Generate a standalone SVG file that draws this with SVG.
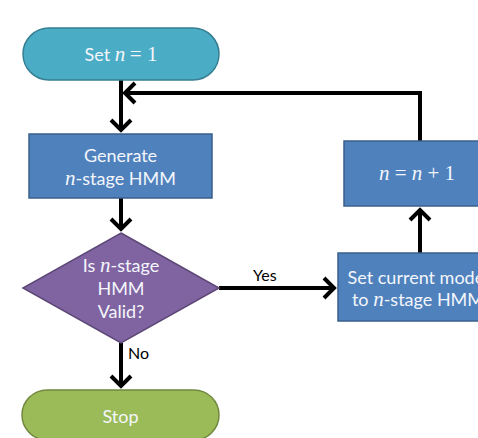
<svg xmlns="http://www.w3.org/2000/svg" width="478" height="438" viewBox="0 0 478 438">
<defs>
<style>
.t{font-family:Lato,"Open Sans","Liberation Sans",sans-serif;font-size:18px;fill:#F4F6FB;text-anchor:middle}
.m{font-family:"Liberation Serif","DejaVu Serif",serif;font-style:italic;font-size:21px}
.mr{font-family:"Liberation Serif","DejaVu Serif",serif;font-size:21px}
.lbl{font-family:Lato,"Open Sans","Liberation Sans",sans-serif;font-size:16px;fill:#000000}
.c{stroke:#000;stroke-width:4;fill:none}
.box{fill:#4F81BD;stroke:#3A5F8C;stroke-width:1.5}
</style>
<marker id="ah" markerUnits="userSpaceOnUse" viewBox="-16 -14 18 28" markerWidth="18" markerHeight="28" refX="0" refY="0" orient="auto">
<path d="M-11,-10 L-1,0 L-11,10" fill="none" stroke="#000" stroke-width="4" stroke-linejoin="miter"/>
</marker>
</defs>
<g id="connectors">
<path class="c" d="M121,80 V131" marker-end="url(#ah)"/>
<path class="c" d="M420,141 V93 H124" marker-end="url(#ah)"/>
<path class="c" d="M121,198 V230" marker-end="url(#ah)"/>
<path class="c" d="M219,288 H335" marker-end="url(#ah)"/>
<path class="c" d="M420,253 V209" marker-end="url(#ah)"/>
<path class="c" d="M121,343 V387" marker-end="url(#ah)"/>
<text class="lbl" x="253" y="281">Yes</text>
<text class="lbl" x="128" y="359">No</text>
</g>
<g id="start">
<rect x="23" y="28" width="196" height="52" rx="26" ry="26" fill="#4BACC6" stroke="#367F93" stroke-width="1.5"/>
<text class="t" x="121" y="61">Set <tspan class="m">n</tspan> <tspan class="mr">= 1</tspan></text>
</g>
<g id="generate">
<rect class="box" x="29" y="134" width="183" height="64"/>
<text class="t" x="120.5" y="162">Generate</text>
<text class="t" x="120.5" y="185"><tspan class="m">n</tspan>-stage HMM</text>
</g>
<g id="decision">
<polygon points="121,233 219,288 121,343 23,288" fill="#8064A2" stroke="#5C4776" stroke-width="1.5"/>
<text class="t" x="121" y="272">Is <tspan class="m">n</tspan>-stage</text>
<text class="t" x="121" y="295">HMM</text>
<text class="t" x="121" y="318">Valid?</text>
</g>
<g id="stop">
<rect x="22" y="390" width="197" height="50" rx="25" ry="25" fill="#9BBB59" stroke="#71893F" stroke-width="1.5"/>
<text class="t" x="120.5" y="423">Stop</text>
</g>
<g id="increment">
<rect class="box" x="344" y="141" width="150" height="65"/>
<text class="t" x="417" y="180"><tspan class="m">n</tspan><tspan class="mr"> = </tspan><tspan class="m">n</tspan><tspan class="mr"> + 1</tspan></text>
</g>
<g id="setcurrent">
<rect class="box" x="338" y="253" width="164" height="68"/>
<text class="t" x="418" y="284">Set current model</text>
<text class="t" x="418" y="306">to <tspan class="m">n</tspan>-stage HMM</text>
</g>
</svg>
